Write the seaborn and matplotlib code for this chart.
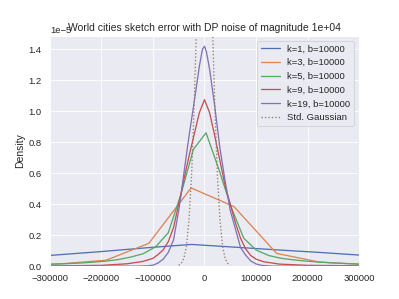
import numpy as np
import matplotlib
matplotlib.use("Agg")
import matplotlib.pyplot as plt
import seaborn as sns

# values (density in units of 1e-5)
k1_x = [-360000, -300000, -200000, -110000, -25000, 60000, 145000, 230000, 315000]
k1_y = [0.055, 0.069, 0.094, 0.119, 0.140, 0.122, 0.104, 0.087, 0.068]

k3_x = [-357000, -274000, -191000, -108000, -26000, 57000, 140000, 223000, 306000]
k3_y = [0.005, 0.016, 0.038, 0.147, 0.505, 0.385, 0.082, 0.026, 0.011]

k5_x = [-315000, -290000, -266000, -241000, -217000, -192000, -168000, -143500,
        -119000, -94700, -70300, -46000, -21500, 3000, 27400, 51800, 76200,
        100600, 125000, 149400, 173800, 198200, 222600, 247000, 271400, 295800, 320000]
k5_y = [0.011, 0.013, 0.016, 0.020, 0.025, 0.032, 0.042, 0.058,
        0.080, 0.125, 0.215, 0.46, 0.754, 0.861, 0.63, 0.38, 0.18,
        0.103, 0.068, 0.050, 0.040, 0.032, 0.026, 0.021, 0.017, 0.014, 0.012]

k9_x = [-300000, -200000, -150000, -120000, -100000, -90000, -80000, -70000, -60000,
        -50000, -40000, -30000, -20000, -10000, 0, 10000, 20000, 30000, 40000,
        50000, 60000, 70000, 80000, 90000, 100000, 115000, 145000, 200000, 300000]
k9_y = [0.001, 0.005, 0.015, 0.030, 0.050, 0.075, 0.105, 0.160, 0.250,
        0.40, 0.56, 0.71, 0.85, 0.99, 1.075, 0.99, 0.84, 0.68, 0.52,
        0.40, 0.28, 0.18, 0.11, 0.068, 0.045, 0.028, 0.013, 0.005, 0.002]

k19_x = [-300000, -130000, -110000, -100000, -90000, -80000, -70000, -60000, -50000,
         -45000, -40000, -30000, -20000, -10000, -4000, 0, 4000, 10000, 20000,
         30000, 40000, 50000, 60000, 70000, 80000, 90000, 100000, 110000, 130000, 300000]
k19_y = [0.0, 0.0, 0.002, 0.006, 0.020, 0.045, 0.090, 0.170, 0.36,
         0.47, 0.60, 0.84, 1.06, 1.29, 1.40, 1.42, 1.38, 1.27, 1.03,
         0.76, 0.55, 0.36, 0.24, 0.12, 0.07, 0.033, 0.014, 0.005, 0.0, 0.0]

gauss_x = [-50000, -45000, -40000, -35000, -30000, -25000, -20000, -15000, -10000, -5000,
           0, 5000, 10000, 15000, 20000, 25000, 30000, 35000, 40000, 45000, 50000]
gauss_y = [0.005, 0.018, 0.05, 0.13, 0.30, 0.59, 1.04, 1.61, 2.20, 2.65,
           2.82, 2.65, 2.20, 1.61, 1.04, 0.59, 0.30, 0.13, 0.05, 0.018, 0.005]

labels = ["k=1, b=10000", "k=3, b=10000", "k=5, b=10000", "k=9, b=10000", "k=19, b=10000"]

sns.set_theme()
plt.rcParams['font.family'] = ['Liberation Sans', 'DejaVu Sans']

dpi = 62.35
fig, ax = plt.subplots(figsize=(399 / dpi, 299 / dpi), dpi=dpi)
pal = sns.color_palette("deep")

curves = [(k1_x, k1_y), (k3_x, k3_y), (k5_x, k5_y), (k9_x, k9_y), (k19_x, k19_y)]
for i, (xs, ys) in enumerate(curves):
    sns.lineplot(x=xs, y=np.array(ys) * 1e-5, ax=ax, color=pal[i], label=labels[i])

sns.lineplot(x=gauss_x, y=np.array(gauss_y) * 1e-5, ax=ax, color=pal[5],
             linestyle=':', label="Std. Gaussian")

ax.set_xlim(-300000, 300000)
ax.set_ylim(0, 1.487e-5)
ax.set_ylabel("Density")
# fixed y so the title sits right on the axes, over the offset text like the original
ax.set_title("World cities sketch error with DP noise of magnitude 1e+04", y=1.0)
ax.legend(loc="upper right")

fig.savefig("out.png", dpi=dpi)
